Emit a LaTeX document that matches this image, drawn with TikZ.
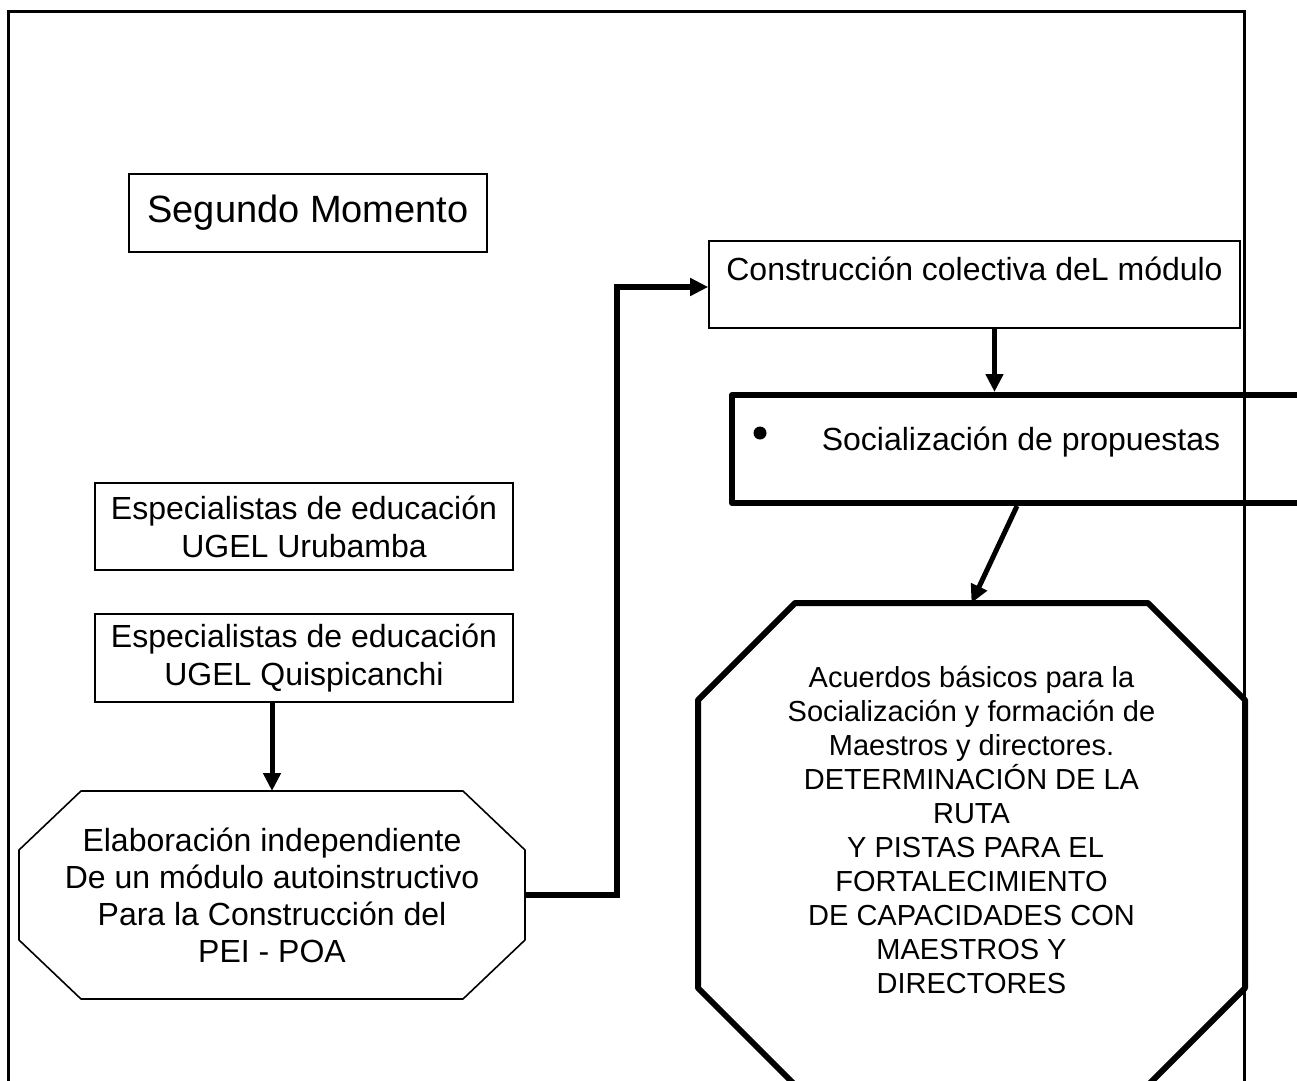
\documentclass[tikz,border=0pt]{standalone}
\usepackage{fontspec}
\setmainfont{Liberation Sans}
\usetikzlibrary{positioning, arrows.meta, calc}

% octagon drawn round a node: [options]{node}{x cut}{y cut}
\newcommand{\octogono}[4][]{%
  \draw[#1] ([xshift=#3]#2.north west) -- ([xshift=-#3]#2.north east) -- ([yshift=-#4]#2.north east)
    -- ([yshift=#4]#2.south east) -- ([xshift=-#3]#2.south east) -- ([xshift=#3]#2.south west)
    -- ([yshift=#4]#2.south west) -- ([yshift=-#4]#2.north west) -- cycle;}

\begin{document}
\begin{tikzpicture}[x=.5pt, y=-.5pt,
    caja/.style={draw, line width=.8pt, inner sep=0pt, align=center, font=\fontsize{16}{19}\selectfont},
    octo/.style={inner sep=0pt, outer sep=0pt, align=center},
    flecha/.style={line width=2.5pt, -{Triangle[length=9pt, width=8.5pt]}}]

        % FRAME
        \useasboundingbox (0,0) rectangle (1297,1081);
        \clip (0,0) rectangle (1297,1081);
        \draw[line width=1.5pt] (8,12) rectangle (1244,1120);

        % LEFT SIDE
        \node[caja, minimum width=179pt, minimum height=39pt, font=\fontsize{19}{22}\selectfont] (momento) at (308,213) {Segundo Momento};
        \node[caja, minimum width=209pt, minimum height=43.5pt] (urubamba) at (304,526.5) {Especialistas de educación\\UGEL Urubamba};
        \node[caja, minimum width=209pt, minimum height=44pt] (quispi) at (304,658) {Especialistas de educación\\UGEL Quispicanchi};
        \node[octo, minimum width=253pt, minimum height=104pt, font=\fontsize{16}{18.5}\selectfont] (elabora) at (272,895)
            {Elaboración independiente\\De un módulo autoinstructivo\\Para la Construcción del\\PEI - POA};
        \octogono[line width=.8pt, line join=round]{elabora}{31pt}{29.5pt}

        % RIGHT SIDE
        \node[caja, minimum width=265.5pt, minimum height=43.5pt, text height=12pt, text depth=16.5pt] (construye) at (974.5,284.5) {Construcción colectiva deL módulo};
        \node[caja, line width=3pt, line join=round, minimum width=289pt, minimum height=54pt, text height=12pt, text depth=11pt] (socializa) at (1021,449) {Socialización de propuestas};
        \node[circle, fill, minimum size=6.5pt, inner sep=0pt] (punto) at (760,433) {};
        \node[octo, minimum width=273.5pt, minimum height=241pt] (acuerdos) at (971.5,844) {};
        \octogono[line width=3pt, line join=round]{acuerdos}{48.5pt}{48.5pt}
        \node[align=center, font=\fontsize{14.5}{17}\selectfont] (acuerdostxt) at ([yshift=7pt]acuerdos.center)
            {Acuerdos básicos para la\\Socialización y formación de\\Maestros y directores.\\DETERMINACIÓN DE LA\\RUTA\\\ Y PISTAS PARA EL\\FORTALECIMIENTO\\DE CAPACIDADES CON\\MAESTROS Y\\DIRECTORES};

        % ARROWS
        \coordinate (codo) at (617,287);
        \coordinate (baja) at ([xshift=10pt]construye.south);
        \draw[flecha] (quispi.south -| elabora.north) -- (elabora.north);
        \draw[flecha, line width=3pt] (elabora.east) -| (codo) -- (codo -| construye.west);
        \draw[flecha] (baja) -- (baja |- socializa.north);
        \draw[flecha] ([xshift=-2pt]socializa.south) -- (acuerdos.north);

    \end{tikzpicture}
\end{document}
